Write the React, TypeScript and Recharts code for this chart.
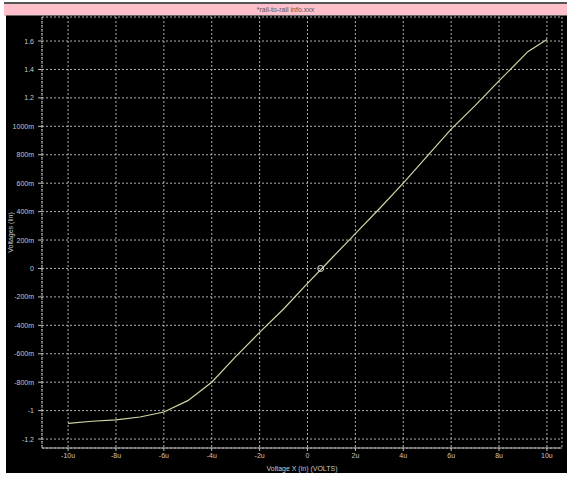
import {
  LineChart,
  Line,
  XAxis,
  YAxis,
  CartesianGrid,
  ReferenceDot,
  Label,
} from "recharts";

// swept input voltage (u = microvolts) and the measured output
const vin = [-10, -9, -8, -7, -6, -5, -4, -3, -2, -1, 0, 1, 2, 3, 4, 5, 6, 7, 8, 9, 9.2, 10];
const vout = [
  -1.09, -1.075, -1.065, -1.045, -1.01, -0.93, -0.8, -0.62, -0.45, -0.285, -0.105,
  0.07, 0.245, 0.42, 0.6, 0.79, 0.98, 1.145, 1.32, 1.49, 1.525, 1.61,
];

const xTicks = [-10, -8, -6, -4, -2, 0, 2, 4, 6, 8, 10];
const xTickLabels = ["-10u", "-8u", "-6u", "-4u", "-2u", "0", "2u", "4u", "6u", "8u", "10u"];

const yTicks = [-1.2, -1, -0.8, -0.6, -0.4, -0.2, 0, 0.2, 0.4, 0.6, 0.8, 1, 1.2, 1.4, 1.6];
const yTickLabels = [
  "-1.2", "-1", "-800m", "-600m", "-400m", "-200m", "0",
  "200m", "400m", "600m", "800m", "1000m", "1.2", "1.4", "1.6",
];

const cursor = { x: 0.55, y: 0 };

const data = vin.map((v, i) => ({ vin: v, vout: vout[i] }));

const FONT = "'Liberation Sans Narrow', 'Liberation Sans', Arial, sans-serif";
const TICK = { fill: "#c8c8c8", fontSize: 7, fontFamily: FONT };

export default function App() {
  return (
    <div
      style={{
        position: "absolute",
        left: 0,
        top: 0,
        width: 567,
        height: 477,
        background: "#fff",
        overflow: "hidden",
      }}
    >
      <div
        style={{
          position: "absolute",
          left: 4,
          top: 2,
          width: 563,
          height: 12,
          background: "#ffc0cb",
          borderTop: "2px solid #555",
          fontFamily: FONT,
          fontSize: 7,
          color: "#555",
          textAlign: "center",
          lineHeight: "12px",
        }}
      >
        *rail-to-rail info.xxx
      </div>
      <div
        style={{
          position: "absolute",
          left: 6,
          top: 15,
          width: 561,
          height: 458,
          background: "#000",
          borderTop: "1px solid #666",
          boxSizing: "border-box",
        }}
      >
        <LineChart
          width={561}
          height={457}
          data={data}
          margin={{ top: 1, right: 5, bottom: 0, left: 0 }}
        >
          <CartesianGrid stroke="#b0b0b0" strokeDasharray="2 2" />
          <XAxis
            type="number"
            dataKey="vin"
            domain={[-11.09, 10.63]}
            ticks={xTicks}
            tickFormatter={(_v: number, i: number) => xTickLabels[i]}
            tick={TICK}
            tickSize={3}
            axisLine={{ stroke: "#bbb" }}
            tickLine={{ stroke: "#bbb" }}
            height={25}
            allowDataOverflow
          >
            <Label
              value="Voltage X (in) (VOLTS)"
              position="insideBottom"
              offset={2}
              style={{ fill: "#c8c8c8", fontSize: 7, fontFamily: FONT }}
            />
          </XAxis>
          <YAxis
            type="number"
            domain={[-1.263, 1.769]}
            ticks={yTicks}
            tickFormatter={(_v: number, i: number) => yTickLabels[i]}
            tick={TICK}
            tickSize={4}
            tickMargin={4}
            axisLine={{ stroke: "#bbb", strokeDasharray: "1 1" }}
            tickLine={{ stroke: "#bbb" }}
            width={36}
            allowDataOverflow
          >
            <Label
              content={({ viewBox }: any) => {
                const cy = viewBox.y + viewBox.height / 2;
                return (
                  <text
                    x={4}
                    y={cy}
                    transform={`rotate(-90 4 ${cy})`}
                    textAnchor="middle"
                    dominantBaseline="central"
                    fill="#c8c8c8"
                    fontSize={7}
                    fontFamily={FONT}
                  >
                    Voltages (lin)
                  </text>
                );
              }}
            />
          </YAxis>
          <Line
            type="linear"
            dataKey="vout"
            stroke="#d4d4a4"
            strokeWidth={1.2}
            dot={false}
            isAnimationActive={false}
          />
          <ReferenceDot
            x={cursor.x}
            y={cursor.y}
            r={3}
            fill="none"
            stroke="#e0e0e0"
            strokeWidth={1}
          />
        </LineChart>
      </div>
    </div>
  );
}
